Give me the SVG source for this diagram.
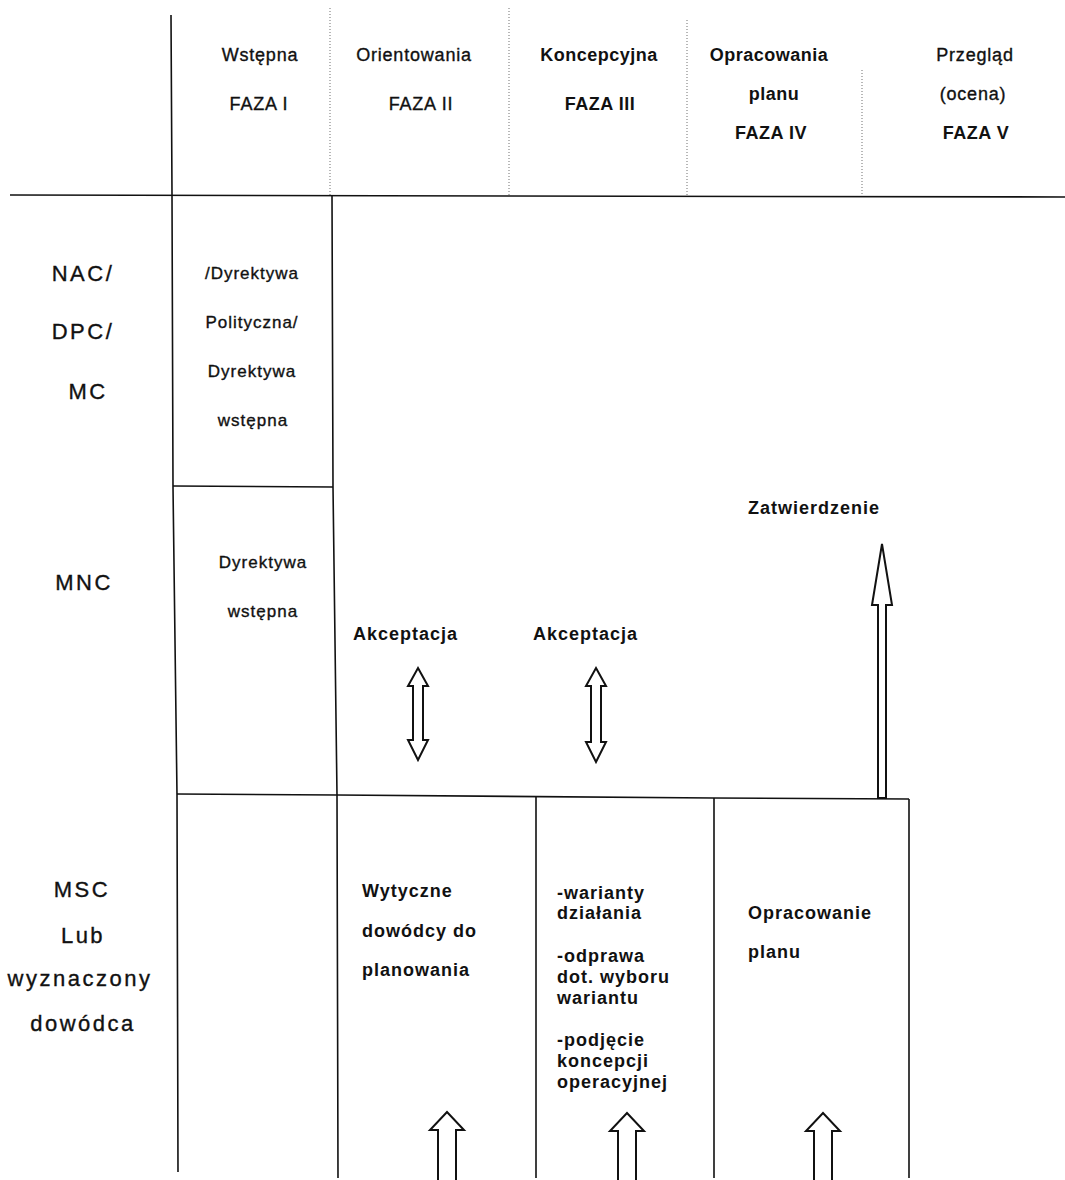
<svg xmlns="http://www.w3.org/2000/svg" width="1065" height="1180" viewBox="0 0 1065 1180">
  <style>
    text { font-family: "Liberation Sans", Arial, sans-serif; fill: #111; }
    .med { stroke: #111; stroke-width: 0.35; }
    .hd { font-size: 18px; letter-spacing: 0.8px; }
    .hdb { font-size: 18px; font-weight: bold; letter-spacing: 0.5px; }
    .row { font-size: 22px; letter-spacing: 2.5px; text-anchor: middle; }
    .cell { font-size: 17px; letter-spacing: 1px; text-anchor: middle; }
    .lbl { font-size: 18px; font-weight: bold; letter-spacing: 1px; }
    .mid { text-anchor: middle; }
    .rule { fill: none; stroke: #111; stroke-width: 1.6; }
    .dots { fill: none; stroke: #888; stroke-width: 1.2; stroke-dasharray: 1 2; }
    .arrow { fill: #fff; stroke: #111; stroke-width: 2; stroke-linejoin: miter; }
  </style>

  <rect width="1065" height="1180" fill="#fff"/>

  <!-- table grid -->
  <g id="grid">
    <path class="dots" d="M330,8 V195 M509,8 V195 M687,20 V195 M862,70 V195"/>
    <path class="rule" d="M10,195 L1065,197"/>
    <path class="rule" d="M171,15 L172,195 L173,487 L177,795 L178,1172"/>
    <path class="rule" d="M332,195 L333,487 L337,795 L338,1178"/>
    <path class="rule" d="M173,486 L333,487"/>
    <path class="rule" d="M177,794 L337,795 L713,798 L909,799"/>
    <path class="rule" d="M536,797 V1178 M714,798 V1178 M909,799 V1178"/>
  </g>

  <!-- phase headings -->
  <g id="phase-1">
    <text class="hd med mid" x="260" y="61">Wstępna</text>
    <text class="hd med mid" x="259" y="110">FAZA I</text>
  </g>
  <g id="phase-2">
    <text class="hd med mid" x="414" y="61">Orientowania</text>
    <text class="hd med mid" x="421" y="110">FAZA II</text>
  </g>
  <g id="phase-3">
    <text class="hdb mid" x="599" y="61">Koncepcyjna</text>
    <text class="hdb mid" x="600" y="110">FAZA III</text>
  </g>
  <g id="phase-4">
    <text class="hdb mid" x="769" y="61">Opracowania</text>
    <text class="hdb mid" x="774" y="100">planu</text>
    <text class="hdb mid" x="771" y="139">FAZA IV</text>
  </g>
  <g id="phase-5">
    <text class="hd med mid" x="975" y="61">Przegląd</text>
    <text class="hd med mid" x="973" y="100">(ocena)</text>
    <text class="hdb mid" x="976" y="139">FAZA V</text>
  </g>

  <!-- level labels -->
  <g id="level-nac">
    <text class="row med" x="83" y="281">NAC/</text>
    <text class="row med" x="83" y="339">DPC/</text>
    <text class="row med" x="88" y="399">MC</text>
  </g>
  <g id="level-mnc">
    <text class="row med" x="84" y="590">MNC</text>
  </g>
  <g id="level-msc">
    <text class="row med" x="82" y="897">MSC</text>
    <text class="row med" x="83" y="943">Lub</text>
    <text class="row med" x="80" y="986">wyznaczony</text>
    <text class="row med" x="83" y="1031">dowódca</text>
  </g>

  <!-- cells -->
  <g id="cell-nac-directive">
    <text class="cell med" x="252" y="279">/Dyrektywa</text>
    <text class="cell med" x="252" y="328">Polityczna/</text>
    <text class="cell med" x="252" y="377">Dyrektywa</text>
    <text class="cell med" x="253" y="426">wstępna</text>
  </g>
  <g id="cell-mnc-directive">
    <text class="cell med" x="263" y="568">Dyrektywa</text>
    <text class="cell med" x="263" y="617">wstępna</text>
  </g>
  <g id="cell-guidance">
    <text class="lbl" x="362" y="897">Wytyczne</text>
    <text class="lbl" x="362" y="937">dowódcy do</text>
    <text class="lbl" x="362" y="976">planowania</text>
  </g>
  <g id="cell-concept">
    <text class="lbl" x="557" y="899">-warianty</text>
    <text class="lbl" x="557" y="919">działania</text>
    <text class="lbl" x="557" y="962">-odprawa</text>
    <text class="lbl" x="557" y="983">dot. wyboru</text>
    <text class="lbl" x="557" y="1004">wariantu</text>
    <text class="lbl" x="557" y="1046">-podjęcie</text>
    <text class="lbl" x="557" y="1067">koncepcji</text>
    <text class="lbl" x="557" y="1088">operacyjnej</text>
  </g>
  <g id="cell-plan">
    <text class="lbl" x="748" y="919">Opracowanie</text>
    <text class="lbl" x="748" y="958">planu</text>
  </g>

  <!-- arrow labels -->
  <g id="label-accept-2">
    <text class="lbl" x="353" y="640">Akceptacja</text>
  </g>
  <g id="label-accept-3">
    <text class="lbl" x="533" y="640">Akceptacja</text>
  </g>
  <g id="label-approve">
    <text class="lbl" x="748" y="514">Zatwierdzenie</text>
  </g>

  <!-- connectors -->
  <g id="connectors">
    <path class="arrow" d="M418,668 L428,686 L423,686 L423,740 L428,740 L418,760 L408,740 L413,740 L413,686 L408,686 Z"/>
    <path class="arrow" d="M596,668 L606,686 L601,686 L601,742 L606,742 L596,762 L586,742 L591,742 L591,686 L586,686 Z"/>
    <path class="arrow" d="M882,544 L892,605 L886,605 L886,798 L878,798 L878,605 L872,605 Z"/>
    <path class="arrow" d="M438,1180 L438,1130 L430,1130 L447,1112 L464,1130 L456,1130 L456,1180"/>
    <path class="arrow" d="M618,1180 L618,1131 L610,1131 L627,1113 L644,1131 L636,1131 L636,1180"/>
    <path class="arrow" d="M814,1180 L814,1131 L806,1131 L823,1113 L840,1131 L832,1131 L832,1180"/>
  </g>
</svg>
